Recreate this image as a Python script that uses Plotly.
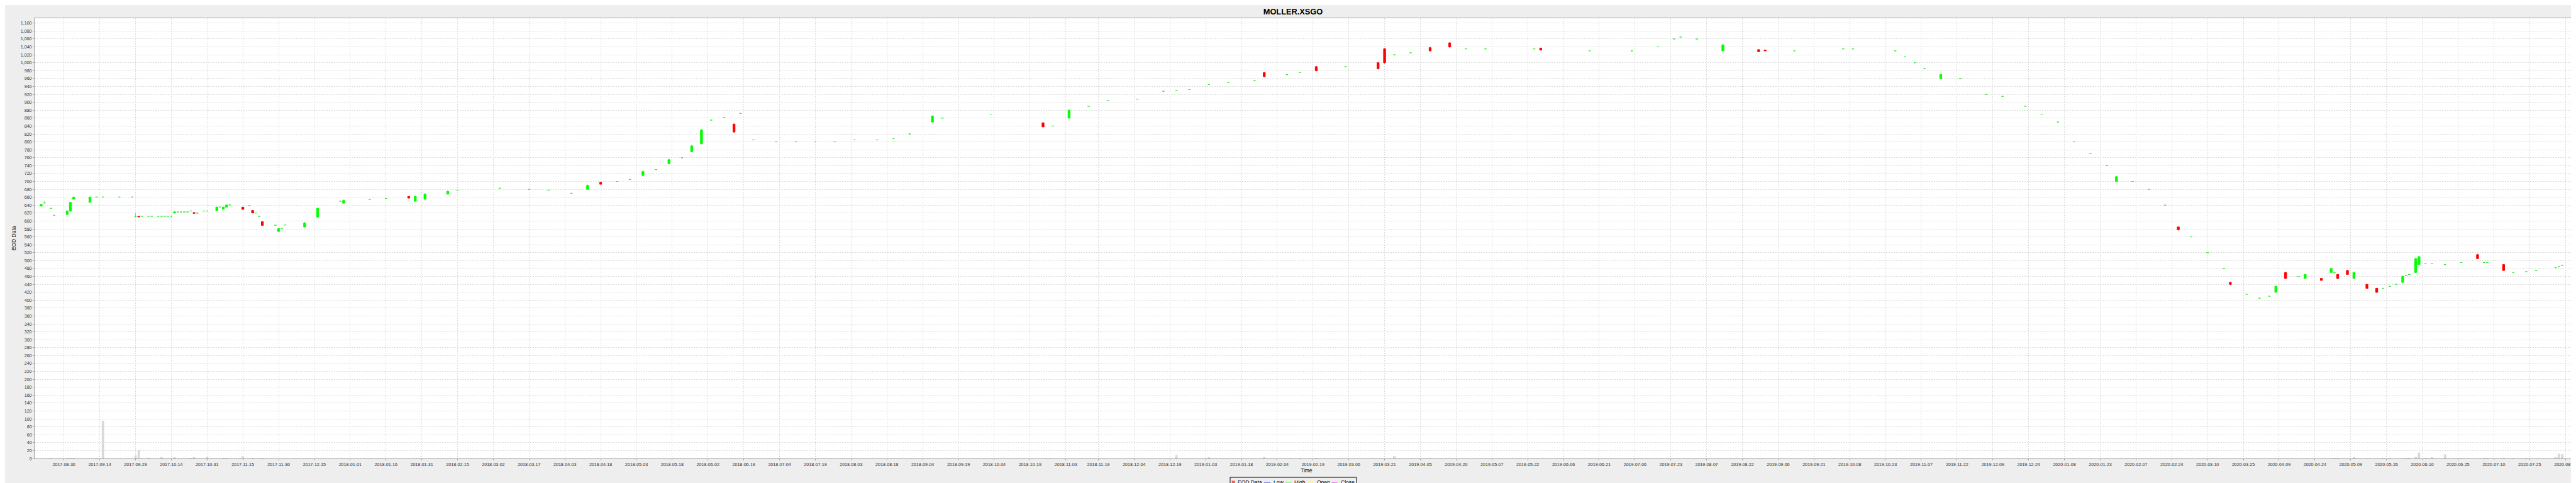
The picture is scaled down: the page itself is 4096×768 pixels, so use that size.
import pandas as pd
import plotly.graph_objects as go

TITLE = "MOLLER.XSGO"
Y_TITLE = "EOD Data"
X_TITLE = "Time"
LEGEND_NAMES = ["EOD Data", "Low", "High", "Open", "Close"]
LEGEND_COLORS = ["#ff5555", "#5555ff", "#55ff55", "#ffff55", "#ff55ff"]

# x-axis tick labels (one every 11 trading days on a Mon-Fri timeline)
tick_labels = [
    "2017-08-30", "2017-09-14", "2017-09-29", "2017-10-14", "2017-10-31", "2017-11-15", "2017-11-30",
    "2017-12-15", "2018-01-01", "2018-01-16", "2018-01-31", "2018-02-15", "2018-03-02", "2018-03-17",
    "2018-04-03", "2018-04-18", "2018-05-03", "2018-05-18", "2018-06-02", "2018-06-19", "2018-07-04",
    "2018-07-19", "2018-08-03", "2018-08-18", "2018-09-04", "2018-09-19", "2018-10-04", "2018-10-19",
    "2018-11-03", "2018-11-19", "2018-12-04", "2018-12-19", "2019-01-03", "2019-01-18", "2019-02-04",
    "2019-02-19", "2019-03-06", "2019-03-21", "2019-04-05", "2019-04-20", "2019-05-07", "2019-05-22",
    "2019-06-06", "2019-06-21", "2019-07-06", "2019-07-23", "2019-08-07", "2019-08-22", "2019-09-06",
    "2019-09-21", "2019-10-08", "2019-10-23", "2019-11-07", "2019-11-22", "2019-12-09", "2019-12-24",
    "2020-01-08", "2020-01-23", "2020-02-07", "2020-02-24", "2020-03-10", "2020-03-25", "2020-04-09",
    "2020-04-24", "2020-05-09", "2020-05-26", "2020-06-10", "2020-06-25", "2020-07-10", "2020-07-25",
    "2020-08-11",
]

# daily candles: date, open, high, low, close
dates = [
    "2017-08-21", "2017-08-22", "2017-08-24", "2017-08-25", "2017-08-31", "2017-09-01", "2017-09-04",
    "2017-09-11", "2017-09-13", "2017-09-15", "2017-09-22", "2017-09-28", "2017-09-29", "2017-10-02",
    "2017-10-03", "2017-10-05", "2017-10-06", "2017-10-10", "2017-10-11", "2017-10-12", "2017-10-13",
    "2017-10-16", "2017-10-17", "2017-10-18", "2017-10-19", "2017-10-20", "2017-10-23", "2017-10-24",
    "2017-10-25", "2017-10-26", "2017-10-30", "2017-10-31", "2017-11-03", "2017-11-06", "2017-11-07",
    "2017-11-08", "2017-11-09", "2017-11-15", "2017-11-17", "2017-11-20", "2017-11-21", "2017-11-22",
    "2017-11-23", "2017-11-29", "2017-11-30", "2017-12-01", "2017-12-04", "2017-12-12", "2017-12-18",
    "2017-12-27", "2017-12-28", "2018-01-09", "2018-01-16", "2018-01-25", "2018-01-29", "2018-02-01",
    "2018-02-12", "2018-02-15", "2018-03-06", "2018-03-19", "2018-03-27", "2018-04-05", "2018-04-12",
    "2018-04-18", "2018-04-25", "2018-05-01", "2018-05-07", "2018-05-11", "2018-05-17", "2018-05-23",
    "2018-05-28", "2018-05-31", "2018-06-05", "2018-06-11", "2018-06-14", "2018-06-18", "2018-06-22",
    "2018-07-03", "2018-07-11", "2018-07-19", "2018-07-27", "2018-08-06", "2018-08-15", "2018-08-22",
    "2018-08-29", "2018-09-07", "2018-09-12", "2018-10-03", "2018-10-25", "2018-10-30", "2018-11-06",
    "2018-11-14", "2018-11-22", "2018-12-05", "2018-12-17", "2018-12-21", "2018-12-27", "2019-01-04",
    "2019-01-14", "2019-01-24", "2019-01-29", "2019-02-07", "2019-02-13", "2019-02-20", "2019-03-05",
    "2019-03-19", "2019-03-21", "2019-03-26", "2019-04-02", "2019-04-10", "2019-04-18", "2019-04-25",
    "2019-05-03", "2019-05-24", "2019-05-28", "2019-06-18", "2019-07-05", "2019-07-17", "2019-07-24",
    "2019-07-26", "2019-08-02", "2019-08-14", "2019-08-29", "2019-09-02", "2019-09-13", "2019-10-04",
    "2019-10-09", "2019-10-28", "2019-10-31", "2019-11-05", "2019-11-08", "2019-11-15", "2019-11-25",
    "2019-12-05", "2019-12-12", "2019-12-23", "2019-12-30", "2020-01-06", "2020-01-13", "2020-01-20",
    "2020-01-27", "2020-01-30", "2020-02-06", "2020-02-13", "2020-02-20", "2020-02-26", "2020-03-03",
    "2020-03-10", "2020-03-17", "2020-03-19", "2020-03-26", "2020-04-01", "2020-04-06", "2020-04-08",
    "2020-04-13", "2020-04-17", "2020-04-21", "2020-04-28", "2020-05-01", "2020-05-04", "2020-05-05",
    "2020-05-08", "2020-05-12", "2020-05-18", "2020-05-21", "2020-05-25", "2020-05-27", "2020-05-29",
    "2020-06-02", "2020-06-03", "2020-06-04", "2020-06-08", "2020-06-09", "2020-06-11", "2020-06-15",
    "2020-06-19", "2020-06-26", "2020-07-03", "2020-07-07", "2020-07-08", "2020-07-15", "2020-07-20",
    "2020-07-24", "2020-07-29", "2020-08-06", "2020-08-07", "2020-08-10",
]
open_ = [
    637.6, 645.6, 632.0, 614.6, 616.5, 624.8, 655.3, 647.0, 660.6, 660.6, 660.6, 660.6, 610.9, 612.0,
    612.0, 612.0, 612.0, 612.0, 612.0, 612.0, 612.0, 612.0, 620.0, 623.0, 623.0, 623.0, 623.0, 625.5,
    621.4, 619.8, 625.2, 625.2, 625.9, 635.4, 630.0, 635.0, 640.6, 635.0, 639.0, 626.7, 620.3, 611.6,
    598.4, 589.4, 573.5, 581.0, 590.0, 585.0, 610.0, 650.0, 645.0, 655.0, 657.0, 662.0, 650.0, 655.0,
    668.0, 678.0, 683.0, 680.0, 678.0, 670.0, 680.0, 698.0, 700.0, 705.0, 715.0, 730.0, 745.0, 760.0,
    775.0, 795.0, 855.0, 862.0, 845.0, 872.0, 805.0, 800.0, 800.0, 800.0, 800.0, 805.0, 805.0, 808.0,
    820.0, 850.0, 860.0, 870.0, 848.0, 840.0, 860.0, 890.0, 905.0, 908.0, 928.0, 930.0, 932.0, 945.0,
    950.0, 955.0, 975.0, 970.0, 975.0, 990.0, 990.0, 1000.0, 1035.0, 1020.0, 1025.0, 1038.0, 1050.0, 1035.0,
    1035.0, 1035.0, 1037.0, 1030.0, 1030.0, 1040.0, 1060.0, 1065.0, 1060.0, 1030.0, 1033.0, 1032.0, 1030.0,
    1035.0, 1035.0, 1030.0, 1015.0, 1000.0, 985.0, 960.0, 960.0, 920.0, 915.0, 890.0, 870.0, 850.0,
    800.0, 770.0, 740.0, 700.0, 700.0, 680.0, 640.0, 585.0, 560.0, 520.0, 480.0, 445.0, 415.0, 405.0,
    410.0, 420.0, 470.0, 460.0, 455.0, 455.0, 470.0, 470.0, 465.0, 475.0, 455.0, 440.0, 430.0, 430.0,
    435.0, 440.0, 445.0, 462.0, 465.0, 470.0, 490.0, 492.0, 492.0, 490.0, 495.0, 515.0, 495.0, 495.0,
    490.0, 470.0, 472.0, 475.0, 482.0, 485.0, 488.0,
]
close = [
    642.2, 645.6, 632.0, 614.6, 625.2, 647.0, 660.6, 660.6, 660.6, 660.6, 660.6, 660.6, 610.9, 610.5,
    612.0, 612.0, 612.0, 612.0, 612.0, 612.0, 612.0, 612.0, 623.0, 623.0, 623.0, 623.0, 623.0, 625.5,
    619.6, 619.8, 625.2, 625.2, 635.4, 635.4, 635.4, 640.6, 640.6, 629.3, 639.0, 620.3, 620.3, 611.6,
    589.0, 589.4, 581.0, 581.0, 590.0, 595.0, 632.0, 650.0, 652.0, 655.0, 657.0, 658.0, 662.0, 668.0,
    675.0, 678.0, 683.0, 680.0, 678.0, 670.0, 690.0, 693.0, 700.0, 705.0, 725.0, 730.0, 755.0, 760.0,
    790.0, 830.0, 855.0, 862.0, 825.0, 872.0, 805.0, 800.0, 800.0, 800.0, 800.0, 805.0, 805.0, 808.0,
    820.0, 865.0, 860.0, 870.0, 838.0, 840.0, 880.0, 890.0, 905.0, 908.0, 928.0, 930.0, 932.0, 945.0,
    950.0, 955.0, 965.0, 970.0, 975.0, 980.0, 990.0, 985.0, 1000.0, 1020.0, 1025.0, 1030.0, 1040.0, 1035.0,
    1035.0, 1035.0, 1032.0, 1030.0, 1030.0, 1040.0, 1060.0, 1065.0, 1060.0, 1045.0, 1028.0, 1030.0, 1030.0,
    1035.0, 1035.0, 1030.0, 1015.0, 1000.0, 985.0, 970.0, 960.0, 920.0, 915.0, 890.0, 870.0, 850.0,
    800.0, 770.0, 740.0, 712.0, 700.0, 680.0, 640.0, 578.0, 560.0, 520.0, 480.0, 440.0, 415.0, 405.0,
    410.0, 435.0, 455.0, 460.0, 465.0, 450.0, 480.0, 470.0, 455.0, 465.0, 470.0, 430.0, 420.0, 430.0,
    435.0, 440.0, 460.0, 462.0, 465.0, 505.0, 510.0, 492.0, 492.0, 490.0, 495.0, 505.0, 495.0, 495.0,
    475.0, 470.0, 472.0, 475.0, 482.0, 485.0, 488.0,
]
high = [
    642.2, 650.8, 632.0, 614.6, 626.6, 647.0, 660.6, 660.6, 660.6, 660.6, 660.6, 660.6, 620.7, 612.5,
    612.0, 612.0, 612.0, 612.0, 612.0, 612.0, 612.0, 612.0, 625.5, 623.0, 623.0, 623.0, 623.0, 625.5,
    621.4, 619.8, 625.2, 625.2, 635.4, 635.4, 635.4, 640.6, 640.6, 636.0, 639.0, 626.7, 620.3, 611.6,
    598.4, 589.4, 581.0, 581.0, 590.0, 597.0, 634.0, 650.0, 654.0, 655.0, 657.0, 663.0, 663.0, 670.0,
    677.0, 678.0, 683.0, 680.0, 678.0, 670.0, 692.0, 699.0, 700.0, 705.0, 727.0, 730.0, 757.0, 760.0,
    792.0, 832.0, 855.0, 862.0, 846.0, 872.0, 805.0, 800.0, 800.0, 800.0, 800.0, 805.0, 805.0, 808.0,
    820.0, 867.0, 860.0, 870.0, 850.0, 840.0, 882.0, 890.0, 905.0, 908.0, 928.0, 930.0, 932.0, 945.0,
    950.0, 955.0, 977.0, 970.0, 975.0, 992.0, 990.0, 1002.0, 1037.0, 1020.0, 1025.0, 1040.0, 1052.0, 1035.0,
    1035.0, 1035.0, 1038.0, 1030.0, 1030.0, 1040.0, 1060.0, 1065.0, 1060.0, 1047.0, 1034.0, 1033.0, 1030.0,
    1035.0, 1035.0, 1030.0, 1015.0, 1000.0, 985.0, 972.0, 960.0, 920.0, 915.0, 890.0, 870.0, 850.0,
    800.0, 770.0, 740.0, 714.0, 700.0, 680.0, 640.0, 586.0, 560.0, 520.0, 480.0, 446.0, 415.0, 405.0,
    410.0, 437.0, 471.0, 460.0, 467.0, 456.0, 482.0, 470.0, 466.0, 476.0, 472.0, 441.0, 431.0, 430.0,
    435.0, 440.0, 462.0, 462.0, 465.0, 507.0, 512.0, 492.0, 492.0, 490.0, 495.0, 517.0, 495.0, 495.0,
    491.0, 470.0, 472.0, 475.0, 482.0, 485.0, 488.0,
]
low = [
    637.6, 645.6, 632.0, 614.6, 616.5, 624.8, 655.3, 647.0, 660.6, 660.6, 660.6, 660.6, 610.9, 610.5,
    612.0, 612.0, 612.0, 612.0, 612.0, 612.0, 612.0, 612.0, 620.0, 623.0, 623.0, 623.0, 623.0, 625.5,
    619.6, 619.8, 625.2, 625.2, 625.9, 635.4, 630.0, 635.0, 640.6, 629.3, 639.0, 620.3, 620.3, 611.6,
    589.0, 589.4, 573.5, 581.0, 590.0, 583.0, 608.0, 650.0, 644.0, 655.0, 657.0, 657.0, 649.0, 654.0,
    667.0, 678.0, 683.0, 680.0, 678.0, 670.0, 679.0, 692.0, 700.0, 705.0, 714.0, 730.0, 744.0, 760.0,
    774.0, 794.0, 855.0, 862.0, 823.0, 872.0, 805.0, 800.0, 800.0, 800.0, 800.0, 805.0, 805.0, 808.0,
    820.0, 849.0, 860.0, 870.0, 836.0, 840.0, 859.0, 890.0, 905.0, 908.0, 928.0, 930.0, 932.0, 945.0,
    950.0, 955.0, 963.0, 970.0, 975.0, 978.0, 990.0, 983.0, 998.0, 1020.0, 1025.0, 1028.0, 1038.0, 1035.0,
    1035.0, 1035.0, 1031.0, 1030.0, 1030.0, 1040.0, 1060.0, 1065.0, 1060.0, 1029.0, 1027.0, 1029.0, 1030.0,
    1035.0, 1035.0, 1030.0, 1015.0, 1000.0, 985.0, 959.0, 960.0, 920.0, 915.0, 890.0, 870.0, 850.0,
    800.0, 770.0, 740.0, 699.0, 700.0, 680.0, 640.0, 576.0, 560.0, 520.0, 480.0, 438.0, 415.0, 405.0,
    410.0, 419.0, 453.0, 460.0, 454.0, 449.0, 469.0, 470.0, 453.0, 464.0, 454.0, 429.0, 418.0, 430.0,
    435.0, 440.0, 444.0, 462.0, 465.0, 469.0, 489.0, 492.0, 492.0, 490.0, 495.0, 504.0, 495.0, 495.0,
    474.0, 470.0, 472.0, 475.0, 482.0, 485.0, 488.0,
]

# traded volume (drawn on the same axis)
vol_dates = [
    "2017-08-24", "2017-08-31", "2017-09-01", "2017-09-04", "2017-09-13", "2017-09-15", "2017-09-29",
    "2017-10-02", "2017-10-05", "2017-10-11", "2017-10-17", "2017-10-24", "2017-10-25", "2017-10-31",
    "2017-11-07", "2017-11-08", "2017-11-15", "2017-11-20", "2017-11-23", "2018-12-21", "2019-01-04",
    "2019-01-29", "2019-02-13", "2019-02-20", "2019-03-26", "2019-04-10", "2020-05-04", "2020-05-05",
    "2020-05-12", "2020-05-25", "2020-05-27", "2020-06-03", "2020-06-04", "2020-06-08", "2020-06-09",
    "2020-06-11", "2020-06-15", "2020-06-19", "2020-06-26", "2020-07-07", "2020-07-08", "2020-07-15",
    "2020-07-20", "2020-07-24", "2020-08-06", "2020-08-07", "2020-08-10",
]
volume = [
    1.3, 1.0, 1.0, 1.0, 1.0, 95.3, 7.5, 21.5, 1.0, 3.4, 3.4, 1.0, 3.0, 4.3, 1.5, 1.3, 5.6, 1.0, 1.0,
    9.0, 2.5, 3.8, 1.1, 1.1, 6.0, 1.0, 1.5, 1.5, 1.9, 1.0, 1.0, 1.0, 1.0, 3.8, 15.0, 1.0, 2.6, 10.5,
    1.0, 1.0, 1.0, 1.0, 1.0, 1.0, 3.8, 12.0, 10.9,
]

# ---------------------------------------------------------------------------
W, H = 4096, 768
ML, MR, MT, MB = 47, 5, 21, 47
PW, PH = W - ML - MR, H - MT - MB


def xp(px):  # pixel -> paper x
    return (px - ML) / PW


def yp(py):  # pixel -> paper y
    return (H - MB - py) / PH


half_day = pd.Timedelta(hours=12)
cx = [pd.Timestamp(d) + half_day for d in dates]
vx = [pd.Timestamp(d) + half_day for d in vol_dates]
tick_pos = []
for lab in tick_labels:
    t = pd.Timestamp(lab)
    if t.weekday() == 5:  # a Saturday tick sits where the next trading day starts
        t = t + pd.Timedelta(days=2)
    tick_pos.append(t + half_day)

saturdays = pd.date_range("2017-07-01", "2020-10-01", freq="W-SAT") + half_day

flat = [o == c for o, c in zip(open_, close)]


def pick(seq, want):
    return [v for v, f in zip(seq, flat) if f == want]


fig = go.Figure()
fig.add_trace(go.Bar(x=vx, y=volume, width=0.73 * 86400000,
                     marker=dict(color="#d9d9d9", line=dict(width=0)), showlegend=False, hoverinfo="skip"))
fig.add_trace(go.Candlestick(
    x=pick(cx, False), open=pick(open_, False), high=pick(high, False), low=pick(low, False),
    close=pick(close, False),
    increasing=dict(line=dict(color="#00ff00", width=1), fillcolor="#00ff00"),
    decreasing=dict(line=dict(color="#ff0000", width=1), fillcolor="#ff0000"),
    showlegend=False, hoverinfo="skip"))
flat_col = "rgba(40,235,40,0.7)"
fig.add_trace(go.Candlestick(
    x=pick(cx, True), open=pick(open_, True), high=pick(high, True), low=pick(low, True),
    close=pick(close, True),
    increasing=dict(line=dict(color=flat_col, width=1), fillcolor=flat_col),
    decreasing=dict(line=dict(color=flat_col, width=1), fillcolor=flat_col),
    showlegend=False, hoverinfo="skip"))

# legend (drawn as in the original: square / short lines + labels in a framed box)
shapes = [dict(type="rect", xref="paper", yref="paper", x0=xp(1948), x1=xp(2149), y0=yp(751), y1=yp(766.8),
               line=dict(color="#000000", width=1), fillcolor="rgba(0,0,0,0)", layer="above")]
shapes.append(dict(type="rect", xref="paper", yref="paper", x0=xp(1950.6), x1=xp(1955.6), y0=yp(756.4),
                   y1=yp(761.8), line=dict(width=0), fillcolor=LEGEND_COLORS[0]))
sym_x = [None, 2001.8, 2035.4, 2070.9, 2109.2]
txt_x = [1959.3, 2015.5, 2048.9, 2084.8, 2123.2]
annotations = []
for i, name in enumerate(LEGEND_NAMES):
    if sym_x[i] is not None:
        shapes.append(dict(type="line", xref="paper", yref="paper", x0=xp(sym_x[i]), x1=xp(sym_x[i] + 10.2),
                           y0=yp(759.2), y1=yp(759.2), line=dict(color=LEGEND_COLORS[i], width=1)))
    annotations.append(dict(text=name, xref="paper", yref="paper", x=xp(txt_x[i]), y=yp(759.2),
                            xanchor="left", yanchor="middle", showarrow=False, borderpad=0,
                            font=dict(size=8.5, color="#000000")))
annotations.append(dict(text=Y_TITLE, xref="paper", yref="paper", x=xp(14.2), y=0.5, textangle=-90,
                        showarrow=False, xanchor="center", yanchor="middle", font=dict(size=8.5, color="#000000")))
annotations.append(dict(text=X_TITLE, xref="paper", yref="paper", x=0.5, y=yp(740), showarrow=False,
                        xanchor="center", yanchor="middle", font=dict(size=8.5, color="#000000")))

grid = dict(showgrid=True, gridcolor="#dadada", gridwidth=1, griddash="2px,2px")
fig.update_layout(
    width=W, height=H,
    margin=dict(l=ML, r=MR, t=MT, b=MB, autoexpand=False),
    paper_bgcolor="#eeeeee", plot_bgcolor="#ffffff",
    font=dict(family="Liberation Sans, Arial, sans-serif", color="#333333", size=7.1),
    title=dict(text="<b>" + TITLE + "</b>", x=0.5, xanchor="center", y=1 - 10.7 / H, yanchor="middle",
               font=dict(size=12.8, color="#000000")),
    boxgap=0.36, boxgroupgap=0, bargap=0.27,
    showlegend=False,
    xaxis=dict(type="date", range=[pd.Timestamp("2017-08-17 11:30"), pd.Timestamp("2020-08-15 08:24")],
               rangebreaks=[dict(values=list(saturdays), dvalue=2 * 86400000)],
               tickmode="array", tickvals=tick_pos, ticktext=tick_labels,
               ticks="outside", ticklen=2, tickcolor="#999999", showline=True, linecolor="#a0a0a0",
               mirror=True, rangeslider=dict(visible=False), zeroline=False,
               tickfont=dict(size=7.1, color="#333333"), **grid),
    yaxis=dict(range=[0, 1112.4], dtick=20, tick0=0, tickformat=",d", ticks="outside", ticklen=2,
               tickcolor="#999999", showline=True, linecolor="#a0a0a0", mirror=True, zeroline=False,
               tickfont=dict(size=7.1, color="#333333"), **grid),
    shapes=shapes,
    annotations=annotations,
)
fig.write_html("out.html")
